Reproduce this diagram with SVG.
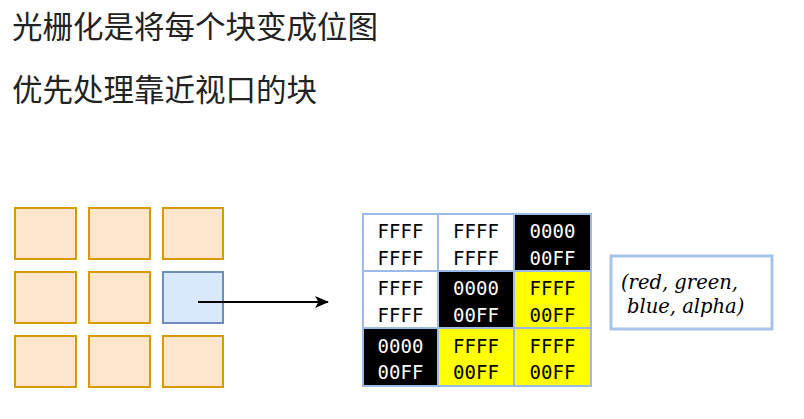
<svg xmlns="http://www.w3.org/2000/svg" width="804" height="419" viewBox="0 0 804 419">
<style>
.title{font-family:"Noto Sans CJK SC","Noto Sans",sans-serif;font-size:30.5px;fill:#222}
.tile{fill:#FFE6CC;stroke:#D79B00;stroke-width:2}
.sel{fill:#DAE8FC;stroke:#6C8EBF;stroke-width:2}
.cell{stroke:#9DBBE8;stroke-width:2}
.w{fill:#FFFFFF}.k{fill:#000000}.y{fill:#FFFF00}
.mono{font-family:"DejaVu Sans Mono","Liberation Mono",monospace;font-size:19px;text-anchor:middle}
.tk{fill:#000}.tw{fill:#fff}
.rgba{font-family:"DejaVu Serif","Liberation Serif",serif;font-style:italic;font-size:19.5px;fill:#000}
</style>
<defs>
<marker id="ah" viewBox="0 0 14 12" refX="13" refY="6" markerWidth="14" markerHeight="12" markerUnits="userSpaceOnUse" orient="auto">
<path d="M0,0 L14,6 L0,12 L3.5,6 Z" fill="#000"/>
</marker>
</defs>
<rect width="804" height="419" fill="#fff"/>
<text class="title" x="12" y="38">光栅化是将每个块变成位图</text>
<text class="title" x="12" y="101">优先处理靠近视口的块</text>

<g id="tile-1-1"><rect class="tile" x="15" y="208" width="61" height="51"/></g>
<g id="tile-1-2"><rect class="tile" x="89" y="208" width="61" height="51"/></g>
<g id="tile-1-3"><rect class="tile" x="163" y="208" width="60" height="51"/></g>
<g id="tile-2-1"><rect class="tile" x="15" y="272" width="61" height="51"/></g>
<g id="tile-2-2"><rect class="tile" x="89" y="272" width="61" height="51"/></g>
<g id="tile-2-3"><rect class="sel" x="163" y="272" width="60" height="51"/></g>
<g id="tile-3-1"><rect class="tile" x="15" y="336" width="61" height="51"/></g>
<g id="tile-3-2"><rect class="tile" x="89" y="336" width="61" height="51"/></g>
<g id="tile-3-3"><rect class="tile" x="163" y="336" width="60" height="51"/></g>

<g id="bitmap">
<g id="px-1-1"><rect class="cell w" x="363" y="214" width="75" height="57"/><text class="mono tk" x="400.5" y="238">FFFF</text><text class="mono tk" x="400.5" y="264.5">FFFF</text></g>
<g id="px-1-2"><rect class="cell w" x="438" y="214" width="76" height="57"/><text class="mono tk" x="476" y="238">FFFF</text><text class="mono tk" x="476" y="264.5">FFFF</text></g>
<g id="px-1-3"><rect class="cell k" x="514" y="214" width="77" height="57"/><text class="mono tw" x="552.5" y="238">0000</text><text class="mono tw" x="552.5" y="264.5">00FF</text></g>
<g id="px-2-1"><rect class="cell w" x="363" y="271" width="75" height="57"/><text class="mono tk" x="400.5" y="295">FFFF</text><text class="mono tk" x="400.5" y="322">FFFF</text></g>
<g id="px-2-2"><rect class="cell k" x="438" y="271" width="76" height="57"/><text class="mono tw" x="476" y="295">0000</text><text class="mono tw" x="476" y="322">00FF</text></g>
<g id="px-2-3"><rect class="cell y" x="514" y="271" width="77" height="57"/><text class="mono tk" x="552.5" y="295">FFFF</text><text class="mono tk" x="552.5" y="322">00FF</text></g>
<g id="px-3-1"><rect class="cell k" x="363" y="328" width="75" height="58"/><text class="mono tw" x="400.5" y="353">0000</text><text class="mono tw" x="400.5" y="379">00FF</text></g>
<g id="px-3-2"><rect class="cell y" x="438" y="328" width="76" height="58"/><text class="mono tk" x="476" y="353">FFFF</text><text class="mono tk" x="476" y="379">00FF</text></g>
<g id="px-3-3"><rect class="cell y" x="514" y="328" width="77" height="58"/><text class="mono tk" x="552.5" y="353">FFFF</text><text class="mono tk" x="552.5" y="379">00FF</text></g>
</g>

<g id="rgba-note">
<rect x="611" y="256" width="161" height="73" fill="#fff" stroke="#A9C4EB" stroke-width="3"/>
<text class="rgba" x="621" y="289">(red, green,</text>
<text class="rgba" x="627" y="313">blue, alpha)</text>
</g>

<g id="connectors">
<line x1="198" y1="302" x2="328" y2="302" stroke="#000" stroke-width="2" marker-end="url(#ah)"/>
</g>
</svg>
